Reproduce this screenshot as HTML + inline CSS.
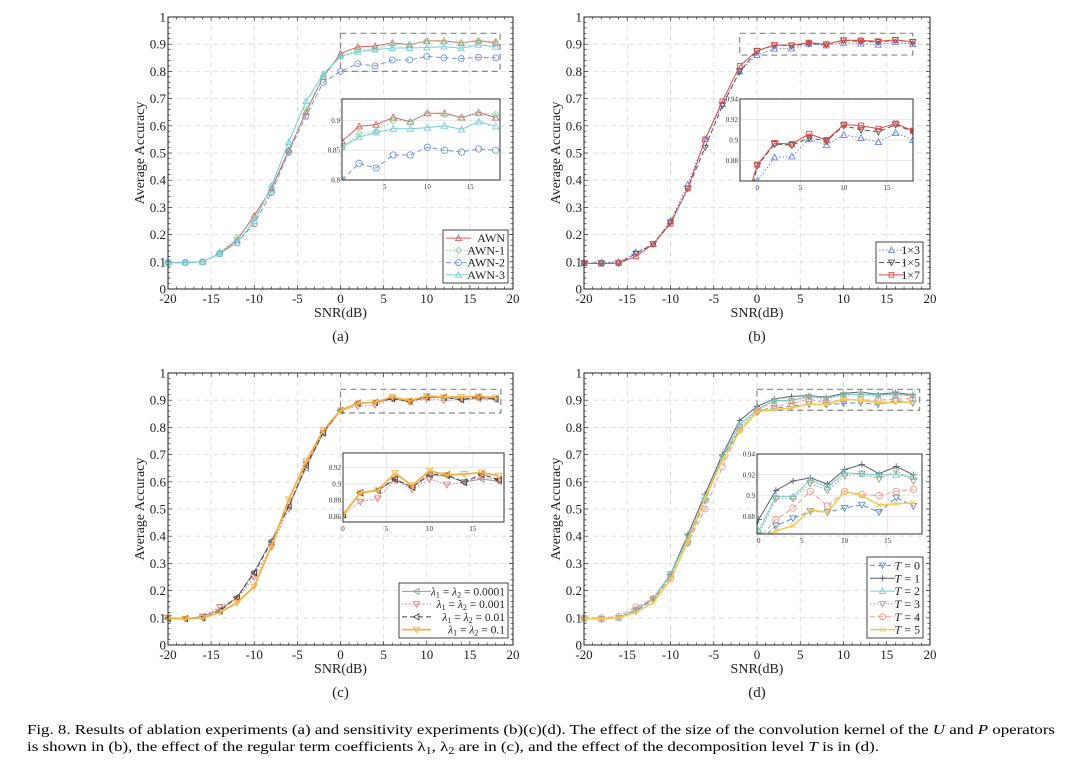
<!DOCTYPE html>
<html><head><meta charset="utf-8"><style>
html,body{margin:0;padding:0;background:#fff;width:1080px;height:767px;overflow:hidden;}
svg{display:block;font-family:"Liberation Serif","Times New Roman",serif;}
</style></head><body>
<svg id="fig" width="1080" height="767" viewBox="0 0 1080 767" xmlns="http://www.w3.org/2000/svg">
<text x="27" y="734" font-size="14" textLength="1028" lengthAdjust="spacingAndGlyphs" font-family="Liberation Serif, serif">Fig. 8.   Results of ablation experiments (a) and sensitivity experiments (b)(c)(d). The effect of the size of the convolution kernel of the <tspan font-style="italic">U</tspan> and <tspan font-style="italic">P</tspan> operators</text>
<text x="27" y="751" font-size="14" textLength="852" lengthAdjust="spacingAndGlyphs" font-family="Liberation Serif, serif">is shown in (b), the effect of the regular term coefficients λ<tspan font-size="10" dy="3">1</tspan><tspan dy="-3">, λ</tspan><tspan font-size="10" dy="3">2</tspan><tspan dy="-3"> are in (c), and the effect of the decomposition level </tspan><tspan font-style="italic">T</tspan> is in (d).</text>
</svg>
<script>
const snrValues = [-20,-18,-16,-14,-12,-10,-8,-6,-4,-2,0,2,4,6,8,10,12,14,16,18];
const xTickLabels = ['-20','-15','-10','-5','0','5','10','15','20'];
const yTickLabels = ['0','0.1','0.2','0.3','0.4','0.5','0.6','0.7','0.8','0.9','1'];
// (a)
const awn  = [.097,.097,.10,.13,.18,.27,.37,.51,.65,.78,.865,.89,.893,.905,.898,.912,.912,.905,.913,.905];
const awn1 = [.097,.097,.10,.135,.19,.26,.36,.50,.66,.78,.855,.878,.882,.90,.898,.912,.91,.905,.913,.91];
const awn2 = [.097,.097,.10,.13,.17,.24,.355,.505,.635,.76,.80,.828,.82,.842,.842,.855,.85,.847,.852,.85];
const awn3 = [.097,.097,.10,.13,.17,.25,.38,.54,.69,.79,.855,.872,.88,.886,.886,.888,.891,.885,.898,.89];
// (b)
const k1x3 = [.095,.097,.10,.135,.165,.25,.385,.55,.68,.80,.86,.883,.884,.901,.895,.905,.902,.898,.907,.90];
const k1x5 = [.095,.095,.095,.13,.165,.245,.37,.52,.675,.80,.875,.896,.895,.902,.899,.914,.910,.908,.915,.908];
const k1x7 = [.095,.093,.095,.12,.165,.24,.37,.55,.69,.82,.876,.897,.896,.906,.900,.915,.914,.911,.916,.909];
// (c)
const lam0001 = [.10,.097,.105,.13,.175,.27,.385,.51,.65,.78,.862,.889,.892,.905,.896,.91,.91,.902,.906,.903];
const lam001  = [.10,.095,.105,.14,.17,.25,.36,.50,.665,.78,.862,.878,.882,.905,.893,.906,.899,.902,.909,.904];
const lam01   = [.097,.097,.10,.125,.175,.265,.38,.51,.66,.78,.862,.889,.892,.906,.896,.912,.911,.902,.912,.905];
const lam1    = [.097,.097,.10,.12,.155,.215,.365,.535,.675,.79,.862,.889,.892,.913,.898,.916,.911,.912,.914,.910];
// (d)
const t0 = [.097,.095,.10,.125,.165,.25,.375,.53,.69,.79,.855,.871,.878,.885,.884,.888,.891,.884,.898,.890];
const t1 = [.097,.097,.10,.13,.17,.26,.405,.555,.70,.825,.877,.905,.914,.917,.911,.925,.930,.921,.928,.920];
const t2 = [.097,.095,.10,.13,.17,.26,.39,.54,.69,.81,.866,.899,.899,.915,.908,.922,.921,.920,.920,.918];
const t3 = [.097,.095,.10,.13,.17,.26,.40,.545,.69,.80,.862,.897,.897,.912,.905,.919,.921,.916,.924,.914];
const t4 = [.10,.10,.105,.14,.17,.245,.375,.50,.655,.79,.858,.877,.888,.904,.890,.904,.901,.900,.904,.906];
const t5 = [.097,.097,.10,.12,.155,.24,.38,.54,.68,.785,.858,.866,.871,.886,.884,.904,.900,.891,.892,.893];

const NS='http://www.w3.org/2000/svg';
const svg=document.getElementById('fig');
function mk(tag,attrs,parent){const e=document.createElementNS(NS,tag);for(const k in attrs)e.setAttribute(k,attrs[k]);(parent||svg).appendChild(e);return e;}

function marker(g,type,cx,cy,color,s){
  let e;
  if(type==='tu') e=mk('polygon',{points:`${cx},${cy-s} ${cx-s},${cy+s*0.8} ${cx+s},${cy+s*0.8}`},g);
  else if(type==='td') e=mk('polygon',{points:`${cx},${cy+s} ${cx-s},${cy-s*0.8} ${cx+s},${cy-s*0.8}`},g);
  else if(type==='tl') e=mk('polygon',{points:`${cx-s},${cy} ${cx+s*0.8},${cy-s} ${cx+s*0.8},${cy+s}`},g);
  else if(type==='di') e=mk('polygon',{points:`${cx},${cy-s} ${cx+s},${cy} ${cx},${cy+s} ${cx-s},${cy}`},g);
  else if(type==='ci') e=mk('circle',{cx:cx,cy:cy,r:s},g);
  else if(type==='sq') e=mk('rect',{x:cx-s*0.8,y:cy-s*0.8,width:s*1.6,height:s*1.6},g);
  else if(type==='pl') e=mk('path',{d:`M${cx-s} ${cy}H${cx+s}M${cx} ${cy-s}V${cy+s}`},g);
  else if(type==='x') e=mk('path',{d:`M${cx-s*0.7} ${cy-s*0.7}L${cx+s*0.7} ${cy+s*0.7}M${cx+s*0.7} ${cy-s*0.7}L${cx-s*0.7} ${cy+s*0.7}`},g);
  e.setAttribute('fill','none');e.setAttribute('stroke',color);e.setAttribute('stroke-width','0.9');
  
  
}

let clipId=0;
function drawPanel(p){
  const g=mk('g',{});
  
  
  const X=v=>p.L+(v+20)/40*(p.R-p.L), Y=v=>p.B-v*(p.B-p.T);
  for(let i=0;i<xTickLabels.length;i++){const v=-20+i*5;
    if(i>0&&i<xTickLabels.length-1){const l=mk('line',{x1:X(v),x2:X(v),y1:p.T,y2:p.B,stroke:'#d8d8d8','stroke-dasharray':'5,4','stroke-width':0.8},g);}
    const t=mk('text',{x:X(v),y:p.B+14,'font-size':13,'text-anchor':'middle',fill:'#222'},g);t.textContent=xTickLabels[i];
    
  }
  for(let i=0;i<yTickLabels.length;i++){const v=i/10;
    if(i>0&&i<yTickLabels.length-1){const l=mk('line',{x1:p.L,x2:p.R,y1:Y(v),y2:Y(v),stroke:'#d8d8d8','stroke-dasharray':'5,4','stroke-width':0.8},g);}
    const t=mk('text',{x:p.L-2,y:Y(v)+4.5,'font-size':13,'text-anchor':'end',fill:'#222'},g);t.textContent=yTickLabels[i];
    
  }
  let d='';
  for(let v=-20;v<=20;v++){const L=v%5===0?4:2.5;d+=`M${X(v)} ${p.B}v${-L}M${X(v)} ${p.T}v${L}`;}
  for(let k=0;k<=50;k++){const v=k/50;const L=k%5===0?4:2.5;d+=`M${p.L} ${Y(v)}h${L}M${p.R} ${Y(v)}h${-L}`;}
  const tk=mk('path',{d:d,stroke:'#333','stroke-width':0.7,fill:'none'},g);
  
  const zb=mk('rect',{x:X(p.zoomBox[0]),y:Y(p.zoomBox[3]),width:X(p.zoomBox[1])-X(p.zoomBox[0]),height:Y(p.zoomBox[2])-Y(p.zoomBox[3]),fill:'none',stroke:'#888','stroke-dasharray':'6,4','stroke-width':1.2},g);
  
  p.series.forEach(s=>{
    const pts=snrValues.map((x,i)=>X(x)+','+Y(s.data[i])).join(' ');
    const pl=mk('polyline',{points:pts,fill:'none',stroke:s.color,'stroke-width':s.w||1,'stroke-dasharray':s.dash||'none'},g);
    
    snrValues.forEach((x,i)=>marker(g,s.m,X(x),Y(s.data[i]),s.color,3));
  });
  const ab=mk('rect',{x:p.L,y:p.T,width:p.R-p.L,height:p.B-p.T,fill:'none',stroke:'#222','stroke-width':1},g);
  
  const ins=p.inset;
  const ig=mk('g',{},g);
  mk('rect',{x:ins.L,y:ins.T,width:ins.R-ins.L,height:ins.B-ins.T,fill:'#fff'},ig);
  const IX=v=>ins.L+(v-ins.x0)/(ins.x1-ins.x0)*(ins.R-ins.L), IY=v=>ins.B-(v-ins.y0)/(ins.y1-ins.y0)*(ins.B-ins.T);
  ins.xt.forEach(v=>{const l=mk('line',{x1:IX(v),x2:IX(v),y1:ins.T,y2:ins.B,stroke:'#e2e2e2','stroke-width':0.7},ig);
    const t=mk('text',{x:IX(v),y:ins.B+9,'font-size':7,'text-anchor':'middle',fill:'#333'},ig);t.textContent=String(v);});
  ins.yt.forEach(v=>{const l=mk('line',{x1:ins.L,x2:ins.R,y1:IY(v),y2:IY(v),stroke:'#e2e2e2','stroke-width':0.7},ig);
    const t=mk('text',{x:ins.L-2,y:IY(v)+2.5,'font-size':7,'text-anchor':'end',fill:'#333'},ig);t.textContent=String(v);});
  const cid='clip'+(clipId++);
  const cp=mk('clipPath',{id:cid},ig);mk('rect',{x:ins.L,y:ins.T,width:ins.R-ins.L,height:ins.B-ins.T},cp);
  const cg=mk('g',{'clip-path':`url(#${cid})`},ig);
  p.series.forEach(s=>{
    const pts=snrValues.map((x,i)=>IX(x)+','+IY(s.data[i])).join(' ');
    const pl=mk('polyline',{points:pts,fill:'none',stroke:s.color,'stroke-width':s.w||1,'stroke-dasharray':s.dash||'none'},cg);
    
    snrValues.forEach((x,i)=>{if(x>=ins.x0-1)marker(cg,s.m,IX(x),IY(s.data[i]),s.color,3.2);});
  });
  mk('rect',{x:ins.L,y:ins.T,width:ins.R-ins.L,height:ins.B-ins.T,fill:'none',stroke:'#333','stroke-width':1},ig);
  const lg=p.legend;const lgg=mk('g',{},g);
  mk('rect',{x:lg.L,y:lg.T,width:lg.R-lg.L,height:lg.B-lg.T,fill:'#fff',stroke:'#444','stroke-width':1},lgg);
  const rh=(lg.B-lg.T-4)/p.series.length;
  p.series.forEach((s,i)=>{
    const cy=lg.T+2+rh*(i+0.5);
    const e=mk('g',{},lgg);
    mk('line',{x1:lg.L+3,x2:lg.L+lg.sw,y1:cy,y2:cy,stroke:s.color,'stroke-width':s.w||1,'stroke-dasharray':s.dash||'none'},e);
    marker(e,s.m,lg.L+3+(lg.sw-3)/2,cy,s.color,3);
    const t=mk('text',{x:lg.R-3,y:cy+4,'font-size':lg.fs||12,'text-anchor':'end',fill:'#222'},e);t.innerHTML=s.label;
  });
  const xl=mk('text',{x:(p.L+p.R)/2,y:p.B+28,'font-size':14,'text-anchor':'middle',fill:'#222'},g);xl.textContent='SNR(dB)';
  
  const yl=mk('text',{x:0,y:0,'font-size':14,'text-anchor':'middle',fill:'#222',transform:`translate(${p.L-24},${(p.T+p.B)/2}) rotate(-90)`},g);yl.textContent='Average Accuracy';
  
  const sl=mk('text',{x:(p.L+p.R)/2,y:p.B+52,'font-size':15,'text-anchor':'middle',fill:'#222'},g);sl.textContent='('+p.id+')';
  
}
const it=s=>'<tspan font-style="italic">'+s+'</tspan>';
const lam=v=>'<tspan font-style="italic">λ</tspan><tspan font-size="8" dy="2">1</tspan><tspan dy="-2"> = </tspan><tspan font-style="italic">λ</tspan><tspan font-size="8" dy="2">2</tspan><tspan dy="-2"> = '+v+'</tspan>';

drawPanel({id:'a',L:168,R:513,T:17,B:289,zoomBox:[0,18.5,0.8,0.94],
  inset:{L:342,R:500,T:99,B:180,x0:0,x1:18.5,y0:0.8,y1:0.936,xt:[5,10,15],yt:[0.8,0.85,0.9]},
  legend:{L:443,R:508,T:230,B:283,sw:28,fs:12},
  series:[
    {key:'awn',label:'AWN',data:awn,color:'#d9625e',m:'tu'},
    {key:'awn-1',label:'AWN-1',data:awn1,color:'#8fd49a',m:'di',dash:'1.5,2'},
    {key:'awn-2',label:'AWN-2',data:awn2,color:'#7098d8',m:'ci',dash:'5,3'},
    {key:'awn-3',label:'AWN-3',data:awn3,color:'#72cfdc',m:'tu'}]});
drawPanel({id:'b',L:584,R:930,T:17,B:289,zoomBox:[-2,18,0.86,0.94],
  inset:{L:740,R:913,T:99,B:181,x0:-2,x1:18,y0:0.86,y1:0.94,xt:[0,5,10,15],yt:[0.88,0.9,0.92,0.94]},
  legend:{L:876,R:923,T:242,B:283,sw:28,fs:12},
  series:[
    {key:'1x3',label:'1×3',data:k1x3,color:'#6f84f0',m:'tu',dash:'1.5,2'},
    {key:'1x5',label:'1×5',data:k1x5,color:'#555',m:'td',dash:'5,3'},
    {key:'1x7',label:'1×7',data:k1x7,color:'#e04a45',m:'sq'}]});
drawPanel({id:'c',L:168,R:513,T:373,B:645,zoomBox:[0,18.6,0.853,0.94],
  inset:{L:343,R:504,T:453,B:522,x0:0,x1:18.6,y0:0.853,y1:0.938,xt:[0,5,10,15],yt:[0.86,0.88,0.9,0.92]},
  legend:{L:399,R:508,T:583,B:638,sw:32,fs:11.5},
  series:[
    {key:'lambda-0.0001',label:lam('0.0001'),data:lam0001,color:'#999',m:'tl'},
    {key:'lambda-0.001',label:lam('0.001'),data:lam001,color:'#e67a72',m:'td',dash:'1.5,2'},
    {key:'lambda-0.01',label:lam('0.01'),data:lam01,color:'#444',m:'tl',dash:'5,3'},
    {key:'lambda-0.1',label:lam('0.1'),data:lam1,color:'#f5b044',m:'td',w:1.8}]});
drawPanel({id:'d',L:584,R:930,T:373,B:645,zoomBox:[0,18.8,0.863,0.94],
  inset:{L:757,R:922,T:454,B:534,x0:-0.2,x1:19,y0:0.863,y1:0.94,xt:[0,5,10,15],yt:[0.88,0.9,0.92,0.94]},
  legend:{L:867,R:923,T:557,B:638,sw:28,fs:12},
  series:[
    {key:'t0',label:it('T')+' = 0',data:t0,color:'#5b8fd0',m:'td',dash:'5,3'},
    {key:'t1',label:it('T')+' = 1',data:t1,color:'#5a5f73',m:'pl'},
    {key:'t2',label:it('T')+' = 2',data:t2,color:'#6fcfd2',m:'tu'},
    {key:'t3',label:it('T')+' = 3',data:t3,color:'#98a890',m:'td',dash:'1.5,2'},
    {key:'t4',label:it('T')+' = 4',data:t4,color:'#f29a85',m:'ci',dash:'5,3'},
    {key:'t5',label:it('T')+' = 5',data:t5,color:'#f7c948',m:'x',w:1.5}]});
</script>
</body></html>
